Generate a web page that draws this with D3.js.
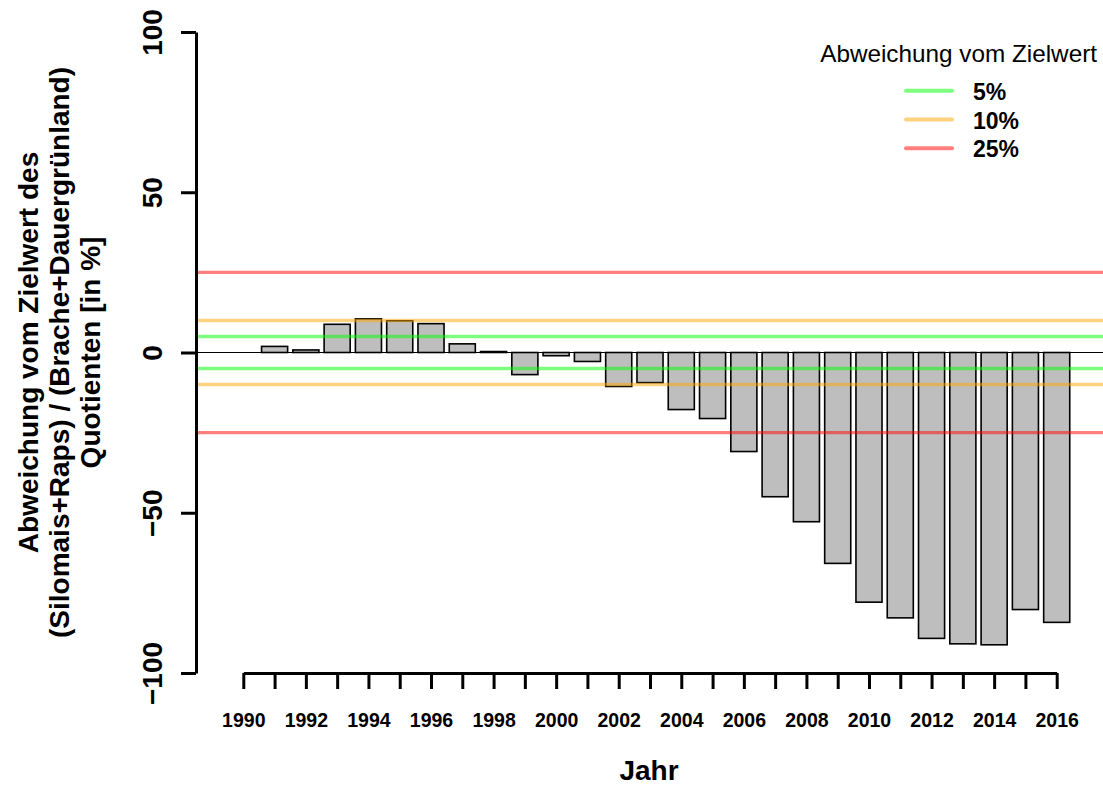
<!DOCTYPE html>
<html>
<head>
<meta charset="utf-8">
<script src="https://cdn.jsdelivr.net/npm/d3@7"></script>
<style>
  html, body { margin: 0; padding: 0; background: #fff; }
  svg { display: block; font-family: "Liberation Sans", Arial, sans-serif; }
</style>
</head>
<body>
<svg id="chart" width="1103" height="787"></svg>
<script>
// ---- data ----
const years = [1991,1992,1993,1994,1995,1996,1997,1998,1999,2000,2001,2002,2003,2004,2005,2006,2007,2008,2009,2010,2011,2012,2013,2014,2015,2016];
const values = [1.9,0.8,8.8,10.5,9.9,9.0,2.7,0.3,-6.9,-1.0,-2.8,-10.6,-9.4,-17.8,-20.6,-30.9,-45.0,-52.8,-65.8,-77.9,-82.8,-89.2,-90.9,-91.2,-80.2,-84.2];
const tickYears = [1990,1991,1992,1993,1994,1995,1996,1997,1998,1999,2000,2001,2002,2003,2004,2005,2006,2007,2008,2009,2010,2011,2012,2013,2014,2015,2016];
const yTicks = [-100,-50,0,50,100];
const thresholds = [5,10,25];
const thresholdLabels = ["5%","10%","25%"];
const thresholdColors = ["rgba(0,255,0,0.5)","rgba(255,165,0,0.5)","rgba(255,0,0,0.5)"];
const legendTitle = "Abweichung vom Zielwert";
const yTitleLines = ["Abweichung vom Zielwert des","(Silomais+Raps) / (Brache+Dauergrünland)","Quotienten [in %]"];
const xTitle = "Jahr";

// ---- scales ----
const svg = d3.select("#chart");
const x = d3.scaleLinear().domain([1990, 2016]).range([243.3, 1056.7]);
const y = d3.scaleLinear().domain([-100, 100]).range([673, 32]);
const barW = (x(1991) - x(1990)) / 1.2;
const axisX = 196;

// ---- bars ----
svg.append("g").selectAll("rect")
  .data(years.map((yr, i) => ({yr, v: values[i]})))
  .join("rect")
  .attr("x", d => x(d.yr) - barW / 2)
  .attr("width", barW)
  .attr("y", d => y(Math.max(0, d.v)))
  .attr("height", d => Math.abs(y(d.v) - y(0)))
  .attr("fill", "#BEBEBE")
  .attr("stroke", "#000")
  .attr("stroke-width", 1.6);

// zero line
svg.append("line")
  .attr("x1", axisX).attr("x2", 1103)
  .attr("y1", y(0)).attr("y2", y(0))
  .attr("stroke", "#000").attr("stroke-width", 1.2);

// threshold lines
thresholds.forEach((t, i) => {
  [t, -t].forEach(v => {
    svg.append("line")
      .attr("x1", axisX).attr("x2", 1103)
      .attr("y1", y(v)).attr("y2", y(v))
      .attr("stroke", thresholdColors[i]).attr("stroke-width", 3.4);
  });
});

// ---- y axis ----
const gy = svg.append("g").attr("transform", `translate(${axisX},0)`)
  .call(d3.axisLeft(y).tickValues(yTicks).tickSize(15).tickSizeOuter(0).tickFormat(d3.format("d")));
gy.select(".domain").attr("stroke-width", 3);
gy.selectAll(".tick line").attr("stroke-width", 3);
gy.selectAll(".tick text")
  .attr("transform", "rotate(-90)")
  .attr("x", 0).attr("y", -34).attr("dy", 0)
  .attr("text-anchor", "middle")
  .style("font-size", "28px").style("font-weight", "bold")
  .style("font-family", "'Liberation Sans', Arial, sans-serif")
  .attr("fill", "#000");

// ---- x axis ----
const gx = svg.append("g").attr("transform", `translate(0,${y(-100)})`)
  .call(d3.axisBottom(x).tickValues(tickYears).tickSize(16).tickSizeOuter(0)
    .tickFormat(d => d % 2 === 0 ? String(d) : ""));
gx.select(".domain").attr("stroke-width", 3);
gx.selectAll(".tick line").attr("stroke-width", 3);
gx.selectAll(".tick text")
  .attr("y", 54).attr("dy", 0)
  .style("font-size", "19.5px").style("font-weight", "bold")
  .style("font-family", "'Liberation Sans', Arial, sans-serif")
  .attr("fill", "#000");

// ---- axis titles ----
svg.append("text")
  .attr("x", 649).attr("y", 780)
  .attr("text-anchor", "middle")
  .style("font-size", "28px").style("font-weight", "bold")
  .text(xTitle);

const yMid = (y(100) + y(-100)) / 2;
const titleBaselines = [38, 69, 100];
yTitleLines.forEach((t, i) => {
  svg.append("text")
    .attr("transform", `translate(${titleBaselines[i]},${yMid}) rotate(-90)`)
    .attr("text-anchor", "middle")
    .style("font-size", "28px").style("font-weight", "bold")
    .text(t);
});

// ---- legend ----
svg.append("text")
  .attr("x", 1097).attr("y", 61.5)
  .attr("text-anchor", "end")
  .style("font-size", "24.3px")
  .text(legendTitle);
const legY = [90.7, 119.5, 148.3];
thresholdLabels.forEach((lab, i) => {
  svg.append("line")
    .attr("x1", 906).attr("x2", 952)
    .attr("y1", legY[i]).attr("y2", legY[i])
    .attr("stroke", thresholdColors[i]).attr("stroke-width", 4)
    .attr("stroke-linecap", "round");
  svg.append("text")
    .attr("x", 973).attr("y", legY[i] + 9)
    .style("font-size", "23px").style("font-weight", "bold")
    .text(lab);
});
</script>
</body>
</html>
